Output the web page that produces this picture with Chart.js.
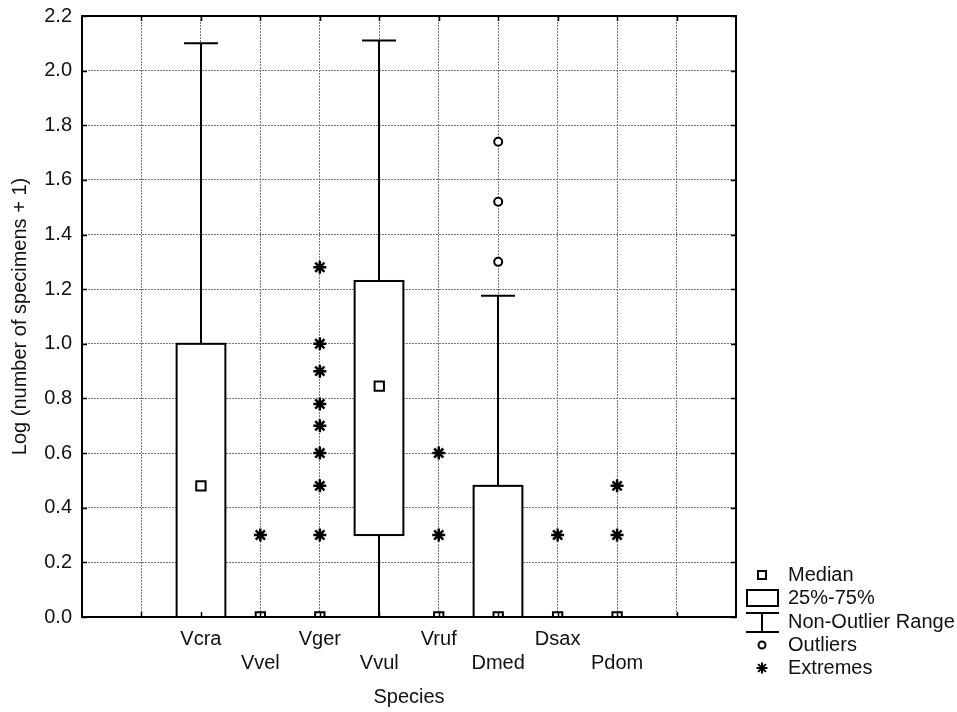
<!DOCTYPE html>
<html><head><meta charset="utf-8">
<script src="https://cdn.jsdelivr.net/npm/chart.js@4"></script>
<style>html,body{margin:0;padding:0;background:#fff}</style>
</head><body>
<canvas id="c" width="957" height="712"></canvas>
<script>
// ---- data ----
const categories = ['Vcra','Vvel','Vger','Vvul','Vruf','Dmed','Dsax','Pdom'];
const medians = [0.48, 0, 0, 0.845, 0, 0, 0, 0];
const q1 = [0.00, null, null, 0.30, null, 0.00, null, null];
const q3 = [1.00, null, null, 1.23, null, 0.48, null, null];
const whiskerLow = [0.00, null, null, 0.00, null, 0.00, null, null];
const whiskerHigh = [2.10, null, null, 2.11, null, 1.176, null, null];
const outliers = [[], [], [], [], [], [1.30, 1.52, 1.74], [], []];
const extremes = [[], [0.30], [0.30, 0.48, 0.60, 0.70, 0.78, 0.90, 1.00, 1.28], [], [0.30, 0.60], [], [0.30], [0.30, 0.48]];
const yMin = 0, yMax = 2.2, yStep = 0.2;
const legendLabels = ['Median', '25%-75%', 'Non-Outlier Range', 'Outliers', 'Extremes'];
const xTitle = 'Species';
const yTitle = 'Log (number of specimens + 1)';

// ---- helpers ----
const slotOf = i => i + 2;            // first slot and last slot are empty
const xMax = categories.length + 3;
const FONT = "'Liberation Sans', Arial, sans-serif";
Chart.defaults.font.family = FONT;
Chart.defaults.font.size = 20;
Chart.defaults.color = '#111';

const medianPts = categories.map((c, i) => ({x: slotOf(i), y: medians[i]}));
const outlierPts = [];
outliers.forEach((arr, i) => arr.forEach(v => outlierPts.push({x: slotOf(i), y: v})));
const extremePts = [];
extremes.forEach((arr, i) => arr.forEach(v => extremePts.push({x: slotOf(i), y: v})));

const boxPlugin = {
  id: 'boxes',
  beforeDatasetsDraw(chart) {
    const {ctx, scales: {x, y}} = chart;
    const unit = x.getPixelForValue(1) - x.getPixelForValue(0);
    ctx.save();
    ctx.strokeStyle = '#000';
    ctx.lineWidth = 2;
    categories.forEach((c, i) => {
      if (q1[i] == null) return;
      const cx = Math.round(x.getPixelForValue(slotOf(i)));
      const hw = 0.41 * unit, cw = 0.285 * unit;
      const yT = y.getPixelForValue(whiskerHigh[i]);
      const yB = y.getPixelForValue(whiskerLow[i]);
      const y3 = y.getPixelForValue(q3[i]);
      const y1 = y.getPixelForValue(q1[i]);
      ctx.beginPath();
      ctx.moveTo(cx, yT); ctx.lineTo(cx, y3);
      ctx.moveTo(cx, y1); ctx.lineTo(cx, yB);
      ctx.moveTo(cx - cw, yT); ctx.lineTo(cx + cw, yT);
      ctx.moveTo(cx - cw, yB); ctx.lineTo(cx + cw, yB);
      ctx.stroke();
      ctx.fillStyle = '#fff';
      ctx.fillRect(cx - hw, y3, 2 * hw, y1 - y3);
      ctx.strokeRect(cx - hw, y3, 2 * hw, y1 - y3);
    });
    ctx.restore();
  }
};

const framePlugin = {
  id: 'frame',
  afterDraw(chart) {
    const {ctx, chartArea: a, scales: {x, y}} = chart;
    ctx.save();
    ctx.strokeStyle = '#000';
    ctx.lineWidth = 2;
    ctx.setLineDash([]);
    ctx.strokeRect(a.left, a.top, a.right - a.left, a.bottom - a.top);
    ctx.lineWidth = 1.5;
    ctx.beginPath();
    for (let v = 1; v < xMax; v++) {
      const px = Math.round(x.getPixelForValue(v)) + 0.5;
      ctx.moveTo(px, a.bottom); ctx.lineTo(px, a.bottom - 5);
      ctx.moveTo(px, a.top); ctx.lineTo(px, a.top + 5);
    }
    y.ticks.forEach(t => {
      const py = Math.round(y.getPixelForValue(t.value)) + 0.5;
      ctx.moveTo(a.left, py); ctx.lineTo(a.left + 5, py);
      ctx.moveTo(a.right, py); ctx.lineTo(a.right - 5, py);
    });
    ctx.stroke();

    // legend
    const sx = a.right + 26, tx = a.right + 52;
    const rows = [-42, -19, 5, 28, 51].map(d => a.bottom + d);
    ctx.lineWidth = 2;
    ctx.fillStyle = '#fff';
    ctx.fillRect(sx - 4, rows[0] - 4, 8, 8);
    ctx.strokeRect(sx - 4, rows[0] - 4, 8, 8);
    ctx.strokeRect(sx - 15, rows[1] - 8, 31, 16);
    ctx.beginPath();
    ctx.moveTo(sx - 16, rows[2] - 9); ctx.lineTo(sx + 17, rows[2] - 9);
    ctx.moveTo(sx, rows[2] - 9); ctx.lineTo(sx, rows[2] + 10);
    ctx.moveTo(sx - 16, rows[2] + 10); ctx.lineTo(sx + 17, rows[2] + 10);
    ctx.stroke();
    ctx.beginPath();
    ctx.arc(sx, rows[3], 3.5, 0, Math.PI * 2);
    ctx.fill(); ctx.stroke();
    ctx.lineWidth = 2;
    ctx.beginPath();
    const r = 5.5;
    for (let k = 0; k < 4; k++) {
      const ang = k * Math.PI / 4;
      ctx.moveTo(sx - r * Math.cos(ang), rows[4] - r * Math.sin(ang));
      ctx.lineTo(sx + r * Math.cos(ang), rows[4] + r * Math.sin(ang));
    }
    ctx.stroke();
    ctx.fillStyle = '#111';
    ctx.font = '20px ' + FONT;
    ctx.textBaseline = 'middle';
    ctx.textAlign = 'left';
    legendLabels.forEach((t, k) => ctx.fillText(t, tx, rows[k]));
    ctx.restore();
  }
};

new Chart(document.getElementById('c'), {
  type: 'scatter',
  data: {
    datasets: [
      {label: legendLabels[0], data: medianPts, pointStyle: 'rect', pointRadius: 6.6, pointHoverRadius: 6.6,
       borderColor: '#000', backgroundColor: '#fff', pointBorderWidth: 2, clip: 0},
      {label: legendLabels[3], data: outlierPts, pointStyle: 'circle', pointRadius: 4, pointHoverRadius: 4,
       borderColor: '#000', backgroundColor: '#fff', pointBorderWidth: 2, clip: 0},
      {label: legendLabels[4], data: extremePts, pointStyle: 'star', pointRadius: 6.5, pointHoverRadius: 6.5,
       borderColor: '#000', backgroundColor: '#000', pointBorderWidth: 2.5, clip: 0}
    ]
  },
  options: {
    responsive: false,
    devicePixelRatio: 1,
    animation: false,
    events: [],
    layout: {padding: {left: 0, top: 16, right: 221, bottom: 0}},
    plugins: {legend: {display: false}, tooltip: {enabled: false}},
    scales: {
      x: {
        type: 'linear', min: 0, max: xMax,
        afterFit: s => { s.height = 95; s.paddingLeft = 0; s.paddingRight = 0; },
        ticks: {
          stepSize: 1, autoSkip: false, maxRotation: 0, padding: 10,
          font: {size: 20, lineHeight: 1.2},
          callback: v => {
            const i = v - 2;
            if (i < 0 || i >= categories.length) return '';
            return i % 2 === 0 ? [categories[i], ''] : ['', categories[i]];
          }
        },
        grid: {color: '#777', lineWidth: 1, drawTicks: false},
        border: {display: false, dash: [2, 1]},
        title: {display: true, text: xTitle, font: {size: 20}, padding: {top: 0, bottom: 3}}
      },
      y: {
        min: yMin, max: yMax,
        afterFit: s => { s.width = 82; s.paddingTop = 0; s.paddingBottom = 0; },
        ticks: {stepSize: yStep, padding: 10, font: {size: 20}, callback: v => Number(v).toFixed(1)},
        grid: {color: '#777', lineWidth: 1, drawTicks: false},
        border: {display: false, dash: [2, 1]},
        title: {display: true, text: yTitle, font: {size: 20}, padding: {top: 8, bottom: 0}}
      }
    }
  },
  plugins: [boxPlugin, framePlugin]
});
</script>
</body></html>
